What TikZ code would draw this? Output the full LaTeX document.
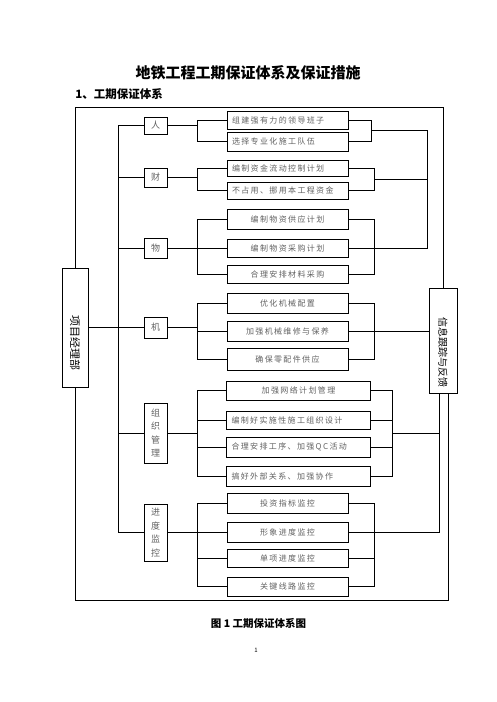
\documentclass[tikz,border=0pt]{standalone}
\usepackage{fontspec}
\setmainfont{Noto Sans CJK SC}
\newfontfamily\boxfont[LetterSpace=17]{Noto Sans CJK SC}
\usetikzlibrary{calc}
\definecolor{txtgray}{gray}{0.38}

\begin{document}
\begin{tikzpicture}[x=1pt, y=-1pt, line width=0.9pt,
    cat/.style={draw, minimum width=23pt, inner sep=1pt, text=txtgray,
      font=\fontsize{9}{13.5}\selectfont, align=center},
    sub/.style={draw, minimum height=19pt, text width=111pt, inner xsep=5pt,
      inner ysep=0pt, text=txtgray, font=\boxfont\fontsize{8}{9}\selectfont, align=center},
    wide/.style={sub, text width=134pt},
    side/.style={draw, inner sep=0pt},
    sidetxt/.style={rotate=-90, inner sep=0pt},
  ]
    \useasboundingbox (0,0) rectangle (496,702);
    \def\sx{287.5}  % centre of the narrow boxes
    \def\wx{298.5}  % centre of the wide boxes
    \def\cx{155.5}  % centre of the middle column

    % heading
    \node[font=\bfseries\fontsize{15}{18}\selectfont] (title) at (248,73) {地铁工程工期保证体系及保证措施};
    \node[font=\bfseries\fontsize{11.5}{14}\selectfont, anchor=west, inner sep=0pt] (head) at (75,94) {1、工期保证体系};

    % left and right boxes
    \node[side, minimum width=26pt, minimum height=119pt] (lbox) at (75,327.5) {};
    \node[sidetxt, font=\fontsize{11}{12}\selectfont] (ltxt) at (75,343) {项目经理部};
    \node[side, minimum width=28pt, minimum height=105pt] (rbox) at (443,340.5) {};
    \node[sidetxt, font=\fontsize{10}{12}\selectfont] (rtxt) at (443,352) {信息跟踪与反馈};

    % middle column
    \node[cat, minimum height=17pt] (ren) at (\cx,125.5) {人};
    \node[cat, minimum height=19pt] (cai) at (\cx,177.5) {财};
    \node[cat, minimum height=20pt] (wu)  at (\cx,248) {物};
    \node[cat, minimum height=21pt] (ji)  at (\cx,327.5) {机};
    \node[cat, minimum height=60pt] (zz)  at (\cx,433) {组\\织\\管\\理};
    \node[cat, minimum height=57pt] (jd)  at (\cx,532.5) {进\\度\\监\\控};

    % measures
    \node[sub, minimum height=18pt, align=left] (ra) at (\sx,120) {组建强有力的领导班子};
    \node[sub, align=left] (rb) at (\sx,141.5) {选择专业化施工队伍};
    \node[sub, minimum height=16pt, align=left] (ca) at (\sx,168) {编制资金流动控制计划};
    \node[sub, minimum height=17pt, align=left] (cb) at (\sx,190.5) {不占用、挪用本工程资金};
    \node[sub, minimum height=20pt] (wa) at (\sx,219) {编制物资供应计划};
    \node[sub, minimum height=18pt] (wb) at (\sx,248) {编制物资采购计划};
    \node[sub, minimum height=18pt] (wc) at (\sx,274) {合理安排材料采购};
    \node[sub, minimum height=20pt] (ja) at (\sx,303) {优化机械配置};
    \node[sub, minimum height=20pt] (jb) at (\sx,331) {加强机械维修与保养};
    \node[sub, minimum height=22pt] (jc) at (\sx,359) {确保零配件供应};
    \node[wide] (za) at (\wx,390.5) {加强网络计划管理};
    \node[wide, minimum height=18pt, align=left] (zb) at (\wx,420) {编制好实施性施工组织设计};
    \node[wide, minimum height=20pt, align=left] (zc) at (\wx,447) {合理安排工序、加强QC活动};
    \node[wide, minimum height=20pt, align=left] (zd) at (\wx,476) {搞好外部关系、加强协作};
    \node[sub, minimum height=20pt] (da) at (\sx,503) {投资指标监控};
    \node[sub, minimum height=20pt] (db) at (\sx,532) {形象进度监控};
    \node[sub, minimum height=18pt] (dc) at (\sx,558) {单项进度监控};
    \node[sub] (dd) at (\sx,586.5) {关键线路监控};

    % caption
    \node[font=\bfseries\fontsize{10.5}{12}\selectfont] (cap) at (258.5,623) {图 1 工期保证体系图};
    \node[font=\fontsize{6}{7}\selectfont] (pg) at (256,650) {1};

    % bracket lines
    \coordinate (trk) at (118,0);
    \coordinate (lbk) at (197,0);
    \coordinate (rka) at (371,0);
    \coordinate (rbk) at (374,0);
    \coordinate (gbk) at (392,0);
    \coordinate (fbk) at (427,0);
    \coordinate (top) at (0,107);
    \coordinate (bot) at (0,600);
    \coordinate (rfa) at ($(rbox.south)+(-4,0)$);
    \coordinate (rfb) at ($(rbox.south)+(5,0)$);

    % trunk
    \draw (ren.west) -- (ren.west -| trk) -- (jd.west -| trk) -- (jd.west);
    \draw (cai.west) -- (cai.west -| trk);
    \draw (wu.west) -- (wu.west -| trk);
    \draw (zz.west) -- (zz.west -| trk);
    \draw (lbox.east |- ji.west) -- (ji.west);

    % left brackets
    \draw (ren.east) -- (ren.east -| lbk);
    \draw (ra.west) -- (ra.west -| lbk) -- (rb.west -| lbk) -- (rb.west);
    \draw (cai.east) -- (cai.east -| lbk);
    \draw (ca.west) -- (ca.west -| lbk) -- (cb.west -| lbk) -- (cb.west);
    \draw (wu.east) -- (wb.west);
    \draw (wa.west) -- (wa.west -| lbk) -- (wc.west -| lbk) -- (wc.west);
    \draw (ji.east) -- (ji.east -| lbk);
    \draw (jb.west) -- (jb.west -| lbk);
    \draw (ja.west) -- (ja.west -| lbk) -- (jc.west -| lbk) -- (jc.west);
    \draw (zz.east) -- (zz.east -| lbk);
    \draw (za.west) -- (za.west -| lbk) -- (zd.west -| lbk) -- (zd.west);
    \draw (zb.west) -- (zb.west -| lbk);
    \draw (zc.west) -- (zc.west -| lbk);
    \draw (jd.east) -- (jd.east -| lbk);
    \draw (db.west) -- (db.west -| lbk);
    \draw (da.west) -- (da.west -| lbk) -- (dd.west -| lbk) -- (dd.west);
    \draw (dc.west) -- (dc.west -| lbk);

    % right brackets
    \coordinate (renout) at ($(ra.east -| rka)!0.5!(rb.east -| rka)$);
    \coordinate (caiout) at ($(ca.east -| rbk)!0.5!(cb.east -| rbk)$);
    \coordinate (zzout) at (392,433);
    \draw (ra.east) -- (ra.east -| rka) -- (rb.east -| rka) -- (rb.east);
    \draw (renout) -- (renout -| fbk) -- (wb.east -| fbk) -- (wb.east);
    \draw (ca.east) -- (ca.east -| rbk) -- (cb.east -| rbk) -- (cb.east);
    \draw (caiout) -- (caiout -| fbk);
    \draw (wa.east) -- (wa.east -| rbk) -- (wc.east -| rbk) -- (wc.east);
    \draw (ja.east) -- (ja.east -| rbk) -- (jc.east -| rbk) -- (jc.east);
    \draw (jb.east) -- (jb.east -| rbox.west);
    \draw (za.east) -- (za.east -| gbk) -- (zd.east -| gbk) -- (zd.east);
    \draw (zb.east) -- (zb.east -| gbk);
    \draw (zc.east) -- (zc.east -| gbk);
    \draw (zzout) -- (zzout -| rfa);
    \draw (da.east) -- (da.east -| rbk) -- (dd.east -| rbk) -- (dd.east);
    \draw (dc.east) -- (dc.east -| rbk);
    \draw (rfa) -- (db.east -| rfa) -- (db.east);

    % outer loop
    \draw (lbox.north) |- (top -| rbox.north) -- (rbox.north);
    \draw (lbox.south) |- (bot -| rfb) -- (rfb);
\end{tikzpicture}
\end{document}
